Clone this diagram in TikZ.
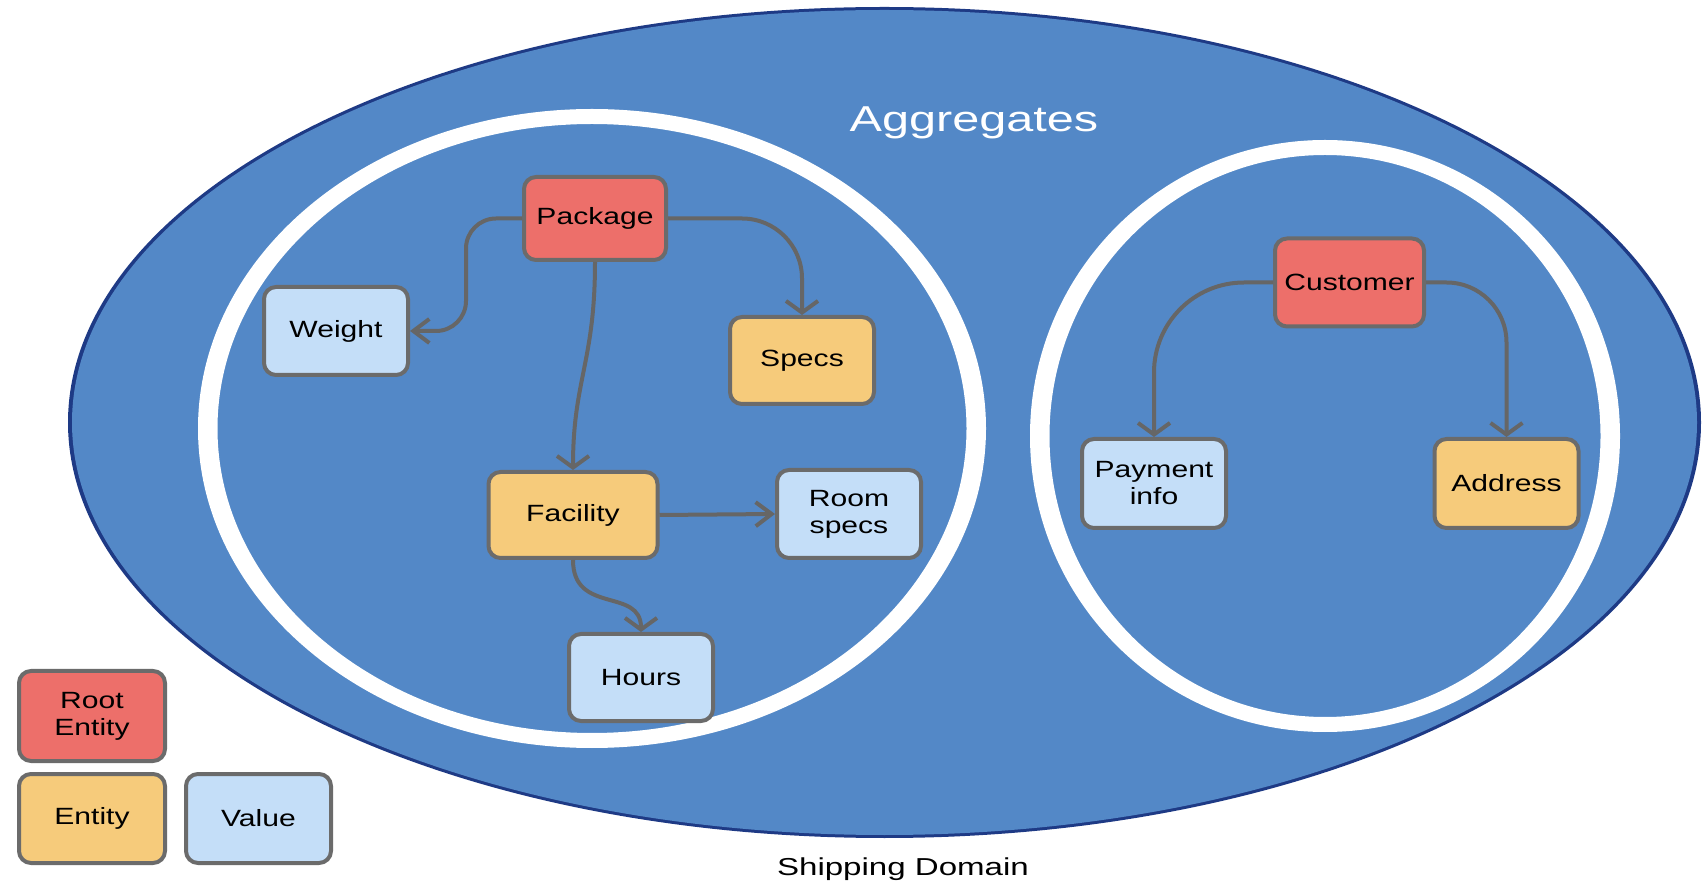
\documentclass[tikz,border=0pt]{standalone}
\usepackage{fontspec}
\setmainfont{Liberation Sans}
\newfontfamily\lblfont[FakeStretch=1.28]{Liberation Sans}
\newfontfamily\ttlfont[FakeStretch=1.35]{Liberation Sans}
\usetikzlibrary{arrows.meta}

\definecolor{domainblue}{HTML}{5388C7}
\definecolor{domainedge}{HTML}{1E3A85}
\definecolor{rootred}{HTML}{ED6F6A}
\definecolor{entityorange}{HTML}{F6CB7B}
\definecolor{valueblue}{HTML}{C4DEF8}
\definecolor{boxgray}{HTML}{6B6B6B}
\definecolor{linkgray}{HTML}{666666}

\tikzset{
  box/.style={draw=boxgray, line width=2pt, rounded corners=6pt,
    minimum width=72pt, minimum height=44pt, inner sep=0pt, align=center,
    font=\lblfont\fontsize{11.75pt}{13.5pt}\selectfont},
  rootbox/.style={box, fill=rootred},
  entitybox/.style={box, fill=entityorange},
  valuebox/.style={box, fill=valueblue},
  link/.style={draw=linkgray, line width=2pt},
  downlink/.style={link, -{Straight Barb[length=5.8pt,width=16pt]}},
  sidelink/.style={link, -{Straight Barb[length=8pt,width=12pt]}},
}

\begin{document}
\begin{tikzpicture}[x=0.5pt, y=-0.5pt]
\useasboundingbox (0,0) rectangle (1703,881);

% shipping domain
\fill[domainedge] (884.5,422.5) ellipse [x radius=816.5, y radius=415.5];
\fill[domainblue] (884.5,422.5) ellipse [x radius=812.5, y radius=412.5];

% aggregate rings
\fill[white, even odd rule]
  (592,428.5) ellipse [x radius=394, y radius=319.5]
  (592,428.5) ellipse [x radius=374.5, y radius=304.5];
\fill[white, even odd rule]
  (1325,436) ellipse [x radius=295, y radius=296]
  (1325,436) ellipse [x radius=275.5, y radius=281];

\node[anchor=base, text=white, font=\ttlfont\fontsize{18pt}{21pt}\selectfont]
  (aggtitle) at (974,132) {Aggregates};
\node[anchor=base, font=\ttlfont\fontsize{12.25pt}{14pt}\selectfont]
  (domtitle) at (903,875) {Shipping Domain};

% package aggregate
\node[rootbox, minimum width=71pt, minimum height=41.5pt] (pkg) at (595,218.5) {Package};
\node[valuebox] (weight) at (336,331) {Weight};
\node[entitybox, minimum height=43.5pt] (specs) at (802,360.5) {Specs};
\node[entitybox, minimum width=84.5pt, minimum height=43pt] (fac) at (573,515) {Facility};
\node[valuebox] (room) at (849,514) {Room\\specs};
\node[valuebox, minimum height=43.5pt] (hours) at (641,677.5) {Hours};

% customer aggregate
\node[rootbox, minimum width=74.5pt] (cust) at (1349.5,282.5) {Customer};
\node[valuebox, minimum height=44.5pt] (pay) at (1154,483.5) {Payment\\info};
\node[entitybox, minimum height=44.5pt] (addr) at (1506.5,483.5) {Address};

% legend
\node[rootbox, minimum width=73pt, minimum height=45pt] (lroot) at (92,716) {Root\\Entity};
\node[entitybox, minimum width=73pt, minimum height=44.5pt] (lentity) at (92,818.5) {Entity};
\node[valuebox, minimum width=72.5pt, minimum height=44.5pt] (lvalue) at (258.5,818.5) {Value};

% connectors
\draw[sidelink, rounded corners=15pt] (pkg.west) -| ([xshift=28pt]weight.east) -- (weight.east);
\draw[downlink, rounded corners=30pt] (pkg.east) -| (specs.north);
\draw[downlink] (pkg.south) .. controls +(0,100) and +(0,-90) .. (fac.north);
\draw[sidelink] (fac.east) -- (room.west);
\draw[downlink] (fac.south) .. controls +(0,55) and +(0,-45) .. (hours.north);
\draw[downlink, rounded corners=45pt] (cust.west) -| (pay.north);
\draw[downlink, rounded corners=30pt] (cust.east) -| (addr.north);
\end{tikzpicture}
\end{document}
